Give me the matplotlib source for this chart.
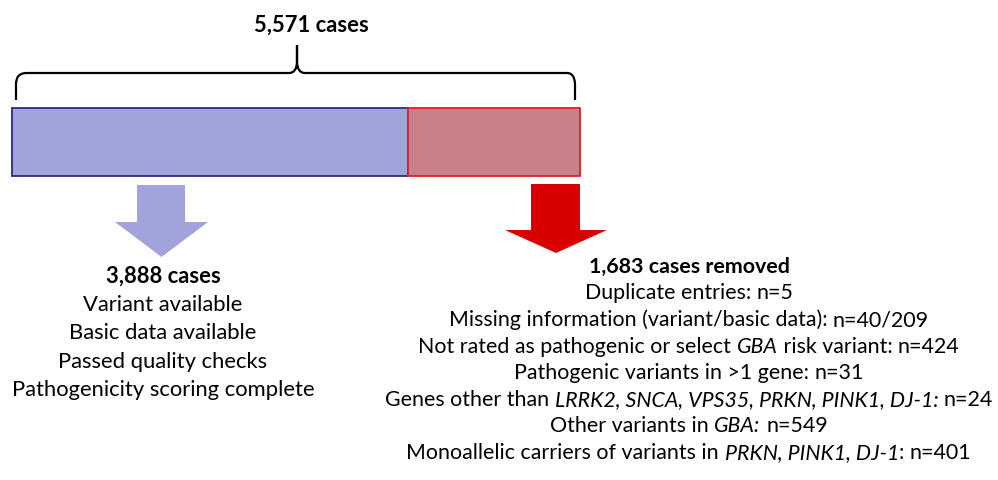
import matplotlib

matplotlib.use("Agg")
import matplotlib.pyplot as plt
from matplotlib.patches import Polygon, PathPatch
from matplotlib.path import Path

W, H = 998, 481

total_cases = 5571
kept_cases = 3888
removed_cases = 1683

kept_criteria = [
    "Variant available",
    "Basic data available",
    "Passed quality checks",
    "Pathogenicity scoring complete",
]

# each reason is a list of (text, italic) pieces, the count goes on the end
removed_reasons = [
    [("Duplicate entries: ", False)],
    [("Missing information (variant/basic data): ", False)],
    [("Not rated as pathogenic or select ", False), ("GBA", True), (" risk variant: ", False)],
    [("Pathogenic variants in >1 gene: ", False)],
    [("Genes other than ", False), ("LRRK2, SNCA, VPS35, PRKN, PINK1, DJ-1:", True), (" ", False)],
    [("Other variants in ", False), ("GBA:", True), (" ", False)],
    [("Monoallelic carriers of variants in ", False), ("PRKN, PINK1, DJ-1", True), (": ", False)],
]
removed_counts = ["5", "40/209", "424", "31", "24", "549", "401"]

KEPT_FILL = "#a3a3db"
KEPT_EDGE = "#2b2d7a"
REMOVED_FILL = "#c98089"
REMOVED_EDGE = "#e01e26"
RED_ARROW = "#d90000"

FONT = "Lato"

plt.rcParams["font.family"] = [FONT, "DejaVu Sans"]

fig = plt.figure(figsize=(W / 100, H / 100), dpi=100)

# overlay in pixel coordinates for brace, arrows and text
ov = fig.add_axes([0, 0, 1, 1])
ov.set_xlim(0, W)
ov.set_ylim(H, 0)
ov.axis("off")

# the stacked bar on its own axes, scaled by case counts
bar_l, bar_r, bar_t, bar_b = 12, 580, 109, 177
bx = fig.add_axes([bar_l / W, 1 - bar_b / H, (bar_r - bar_l) / W, (bar_b - bar_t) / H])
bx.barh(0, kept_cases, left=0, height=1, color=KEPT_FILL, edgecolor=KEPT_EDGE,
        linewidth=1.3, clip_on=False)
bx.barh(0, removed_cases, left=kept_cases, height=1, color=REMOVED_FILL,
        edgecolor=REMOVED_EDGE, linewidth=1.3, clip_on=False)
bx.set_xlim(0, total_cases)
bx.set_ylim(-0.5, 0.5)
bx.axis("off")

# curly brace over the bar
left_half = [(16, 101), (16, 86), (16, 78), (19, 74), (27, 74), (289, 74),
             (294, 74), (297, 70), (297, 62), (297, 46)]
codes = [Path.MOVETO, Path.LINETO, Path.CURVE4, Path.CURVE4, Path.CURVE4, Path.LINETO,
         Path.CURVE4, Path.CURVE4, Path.CURVE4, Path.LINETO]
right_half = [(297, 46), (297, 62), (297, 70), (300, 74), (305, 74), (567, 74),
              (572, 74), (575, 78), (575, 86), (575, 101)]
for pts in (left_half, right_half):
    ov.add_patch(PathPatch(Path(pts, codes), fill=False, edgecolor="black",
                           linewidth=1.6, capstyle="butt", joinstyle="round"))


def down_arrow(shaft_l, shaft_r, top, head_l, head_r, head_t, tip_x, tip_y, color):
    pts = [(shaft_l, top), (shaft_r, top), (shaft_r, head_t), (head_r, head_t),
           (tip_x, tip_y), (head_l, head_t), (shaft_l, head_t)]
    ov.add_patch(Polygon(pts, closed=True, facecolor=color, edgecolor="none"))


down_arrow(137, 185, 186, 115, 208, 223, 161.5, 258, KEPT_FILL)
down_arrow(531, 580, 185, 505, 607, 231, 556, 254, RED_ARROW)

renderer = fig.canvas.get_renderer()


def piece_width(s, **kw):
    a = ov.text(0, 0, "x" + s + "x", **kw)
    b = ov.text(0, 0, "xx", **kw)
    w = a.get_window_extent(renderer).width - b.get_window_extent(renderer).width
    a.remove()
    b.remove()
    return w


def centered_line(xc, y, pieces, size, weight="normal"):
    widths = [piece_width(s, fontsize=size, weight=weight,
                          style="italic" if it else "normal") for s, it in pieces]
    x = xc - sum(widths) / 2
    for (s, it), w in zip(pieces, widths):
        ov.text(x, y, s, fontsize=size, weight=weight, style="italic" if it else "normal",
                ha="left", va="center")
        x += w


LEFT_TXT = 15.8
RIGHT_TXT = 15.4
centered_line(311, 25, [(f"{total_cases:,} cases", False)], LEFT_TXT, "bold")

# kept block
centered_line(163, 276, [(f"{kept_cases:,} cases", False)], LEFT_TXT, "bold")
for i, line in enumerate(kept_criteria):
    centered_line(163, 305 + i * 28.5, [(line, False)], LEFT_TXT)

# removed block
centered_line(689, 267, [(f"{removed_cases:,} cases removed", False)], RIGHT_TXT, "bold")
for i, (pieces, n) in enumerate(zip(removed_reasons, removed_counts)):
    centered_line(689, 293.5 + i * 26.6, pieces + [(f"n={n}", False)], RIGHT_TXT)

fig.savefig("out.png", dpi=100)
